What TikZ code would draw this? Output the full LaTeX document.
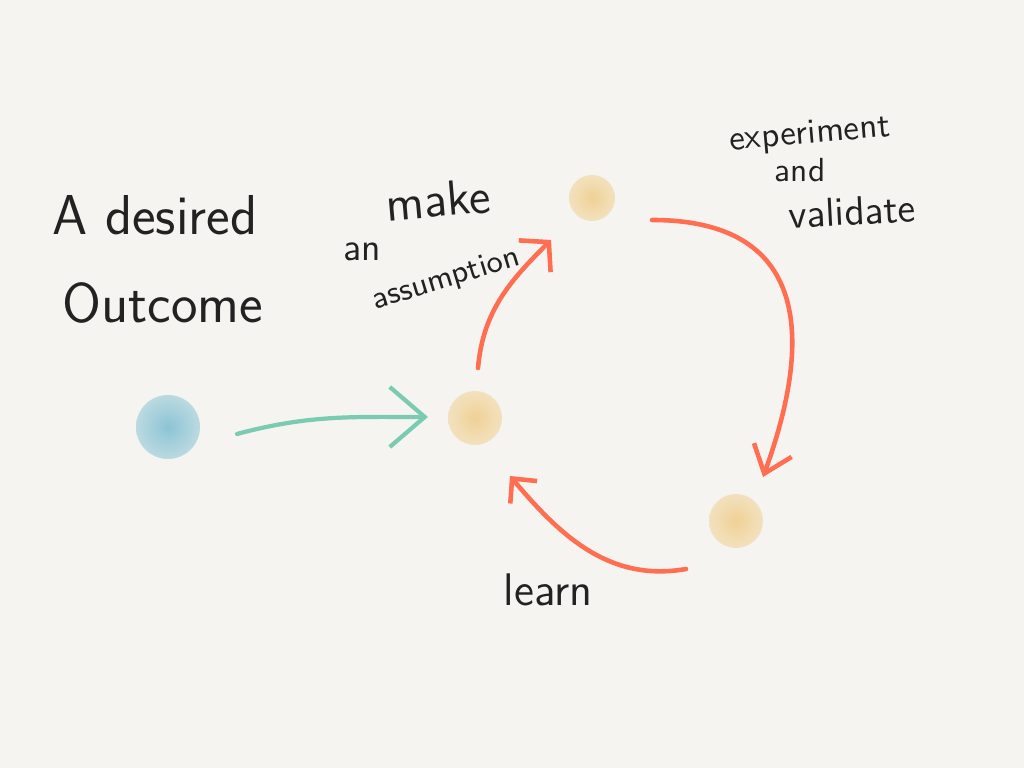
\documentclass[tikz,border=0pt]{standalone}
\usepackage{tikz}
\usetikzlibrary{arrows.meta,calc,positioning}
\definecolor{paper}{HTML}{F5F4F0}
\definecolor{ink}{HTML}{222222}
\definecolor{dotblue}{HTML}{8CC4D5}
\definecolor{dotyellow}{HTML}{F0D196}
\definecolor{loopred}{HTML}{FF6E50}
\definecolor{leadgreen}{HTML}{7ACBB1}

\begin{document}
\begin{tikzpicture}[x=0.1mm,y=0.1mm,
  blob/.style={circle,inner sep=0pt,shading=radial,inner color=#1,outer color=#1!55!paper},
  hand/.style={font=\sffamily\fontsize{#1}{#1}\selectfont,text=ink,inner sep=0pt},
  loop/.style={draw=loopred,line width=1.3pt,line cap=round},
  lead/.style={draw=leadgreen,line width=1.2pt,line cap=round}]
\useasboundingbox[fill=paper] (0,0) rectangle (1024,768);
% dots
\node[blob=dotblue,minimum size=6.4mm] (outcome) at (168,341) {};
\node[blob=dotyellow,minimum size=5.4mm] (assume) at (475,350) {};
\node[blob=dotyellow,minimum size=4.6mm] (test) at (592,570) {};
\node[blob=dotyellow,minimum size=5.4mm] (learnt) at (736,247) {};
% labels
\node[hand=16] (desired) at (155,553) {A desired};
\node[hand=16] (outcomelbl) at (163,465) {Outcome};
\node[hand=14,rotate=5] (make) at (438,568) {make};
\node[hand=11] (an) at (362,516) {an};
\node[hand=9,rotate=17] (assumption) at (446,488) {assumption};
\node[hand=10,rotate=5] (experiment) at (810,633) {experiment};
\node[hand=9.5] (and) at (800,598) {and};
\node[hand=11.5,rotate=3] (validate) at (852,557) {validate};
\node[hand=13] (learn) at (548,178) {learn};
% arrow ends
\coordinate (g0) at ($(outcome)+(69,-7)$);
\coordinate (g1) at ($(assume)+(-47,1)$);
\coordinate (a0) at ($(assume)+(3,50)$);
\coordinate (a1) at ($(test)+(-41,-42)$);
\coordinate (t0) at ($(test)+(60,-22)$);
\coordinate (t1) at ($(learnt)+(27,44)$);
\coordinate (l0) at ($(learnt)+(-50,-48)$);
\coordinate (l1) at ($(assume)+(35,-58)$);
\draw[lead,-{Straight Barb[length=3.5mm,width=6mm]}] (g0) to[out=15,in=180] (g1);
\draw[loop,-{Straight Barb[length=2mm,width=4.5mm]}] (a0) to[out=85,in=225] (a1);
\draw[loop,-{Straight Barb[length=2.5mm,width=4mm]}] (t0) to[out=0,in=70,looseness=1.4] (t1);
\draw[loop,-{Straight Barb[length=1.8mm,width=3.5mm]}] (l0) to[out=190,in=-50] (l1);
\end{tikzpicture}
\end{document}
